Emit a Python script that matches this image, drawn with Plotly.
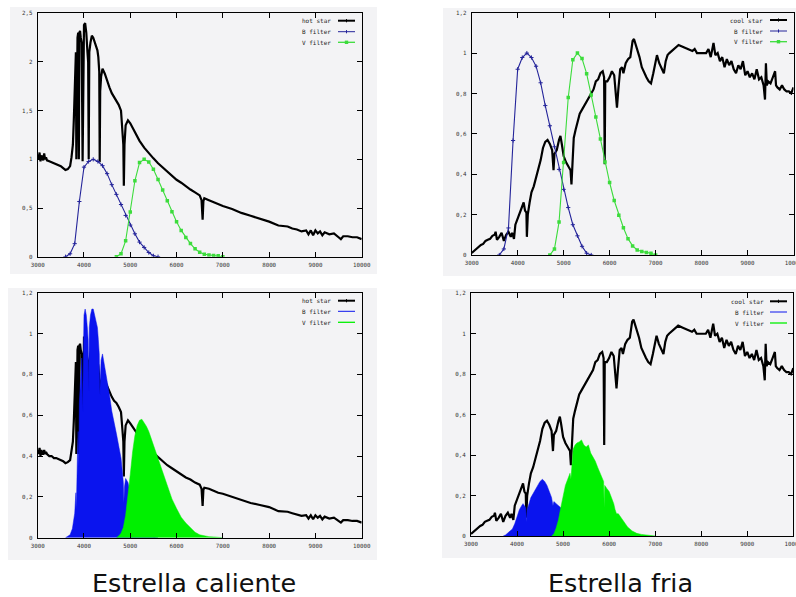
import plotly.graph_objects as go

W, H = 796, 597

# ---------------- DATA ----------------
# Hot star spectrum (top-left panel)
hot_wl = [3000, 3020, 3040, 3060, 3080, 3100, 3120, 3140, 3160, 3180, 3200, 3250, 3300, 3350, 3400,
          3450, 3500, 3550, 3600, 3650, 3700, 3730, 3760, 3780, 3800, 3815, 3825, 3835, 3845, 3860,
          3875, 3889, 3900, 3915, 3930, 3950, 3970, 3985, 4000, 4025, 4050, 4075, 4090, 4102, 4115,
          4140, 4170, 4200, 4230, 4260, 4290, 4310, 4330, 4340, 4350, 4370, 4400, 4450, 4500, 4550,
          4600, 4650, 4700, 4750, 4800, 4830, 4850, 4861, 4875, 4900, 4950, 5000, 5100, 5200, 5300,
          5400, 5500, 5600, 5700, 5800, 5900, 6000, 6100, 6200, 6300, 6400, 6500, 6540, 6563, 6580,
          6600, 6700, 6800, 6900, 7000, 7200, 7400, 7600, 7800, 8000, 8200, 8400, 8500, 8600, 8700,
          8800, 8850, 8900, 8950, 9000, 9050, 9100, 9150, 9200, 9300, 9400, 9500, 9550, 9600, 9700,
          9800, 9900, 10000]
hot_flux = [1.05, 1.00, 1.07, 0.98, 1.04, 1.01, 0.99, 1.06, 1.00, 1.02, 0.99, 0.98, 0.97, 0.96, 0.95,
            0.94, 0.93, 0.91, 0.89, 0.90, 0.93, 1.02, 1.15, 1.40, 1.75, 2.00, 2.10, 1.00, 2.20, 2.25,
            2.30, 1.00, 2.30, 2.32, 2.25, 2.20, 0.98, 2.30, 2.38, 2.40, 2.30, 2.10, 2.00, 1.00, 2.10,
            2.20, 2.27, 2.25, 2.20, 2.16, 2.12, 2.05, 1.90, 0.97, 1.70, 1.85, 1.93, 1.88, 1.80, 1.74,
            1.68, 1.64, 1.60, 1.56, 1.50, 1.30, 1.15, 0.73, 1.15, 1.35, 1.40, 1.37, 1.28, 1.19, 1.12,
            1.06, 1.01, 0.96, 0.92, 0.87, 0.83, 0.79, 0.76, 0.72, 0.69, 0.66, 0.63, 0.58, 0.38, 0.57,
            0.60, 0.58, 0.56, 0.54, 0.52, 0.49, 0.45, 0.42, 0.39, 0.36, 0.32, 0.31, 0.29, 0.28, 0.26,
            0.27, 0.23, 0.27, 0.22, 0.27, 0.24, 0.26, 0.22, 0.25, 0.23, 0.24, 0.20, 0.18, 0.21, 0.21,
            0.20, 0.20, 0.18]
# Hot star spectrum as drawn in the bottom-left panel (different normalisation)
hot_flux_low = [0.43, 0.41, 0.44, 0.40, 0.43, 0.41, 0.41, 0.43, 0.41, 0.42, 0.41, 0.40, 0.40, 0.39, 0.39,
                0.385, 0.38, 0.375, 0.365, 0.37, 0.38, 0.42, 0.47, 0.57, 0.72, 0.82, 0.86, 0.41, 0.90, 0.92,
                0.94, 0.41, 0.94, 0.95, 0.92, 0.90, 0.40, 0.94, 0.98, 0.98, 0.94, 0.86, 0.82, 0.41, 0.86,
                0.90, 0.93, 0.92, 0.90, 0.89, 0.87, 0.84, 0.78, 0.40, 0.70, 0.76, 0.79, 0.77, 0.74, 0.71,
                0.69, 0.67, 0.66, 0.64, 0.615, 0.53, 0.47, 0.30, 0.47, 0.55, 0.575, 0.56, 0.525, 0.49, 0.46,
                0.435, 0.415, 0.395, 0.375, 0.355, 0.34, 0.325, 0.31, 0.295, 0.285, 0.27, 0.26, 0.24, 0.155, 0.235,
                0.245, 0.24, 0.23, 0.22, 0.215, 0.20, 0.185, 0.17, 0.16, 0.15, 0.13, 0.127, 0.12, 0.115, 0.107,
                0.11, 0.094, 0.11, 0.09, 0.11, 0.098, 0.107, 0.09, 0.103, 0.094, 0.098, 0.082, 0.074, 0.086, 0.086,
                0.082, 0.082, 0.074]

# Cool star spectrum (right panels)
cool_wl = [3000, 3050, 3100, 3150, 3200, 3250, 3300, 3350, 3400, 3450, 3500, 3520, 3550, 3600, 3650,
           3700, 3750, 3800, 3850, 3880, 3920, 3950, 4000, 4050, 4100, 4130, 4160, 4190, 4200, 4220,
           4260, 4300, 4350, 4400, 4450, 4500, 4550, 4600, 4650, 4700, 4750, 4780, 4800, 4850, 4900,
           4930, 4960, 5000, 5050, 5100, 5150, 5170, 5190, 5220, 5260, 5300, 5350, 5400, 5450, 5500,
           5550, 5600, 5650, 5700, 5750, 5800, 5850, 5880, 5893, 5905, 5950, 6000, 6050, 6100, 6130,
           6160, 6190, 6230, 6270, 6300, 6350, 6400, 6450, 6500, 6530, 6570, 6600, 6650, 6700, 6750,
           6800, 6850, 6900, 6950, 7000, 7030, 7080, 7130, 7180, 7220, 7260, 7300, 7400, 7500, 7600,
           7700, 7800, 7850, 7900, 8000, 8100, 8150, 8200, 8260, 8300, 8350, 8400, 8450, 8500, 8550,
           8600, 8650, 8700, 8750, 8800, 8850, 8900, 8950, 9000, 9050, 9100, 9150, 9200, 9250, 9300,
           9350, 9380, 9400, 9420, 9450, 9500, 9550, 9600, 9620, 9650, 9700, 9750, 9800, 9850, 9900,
           9950, 10000]
cool_flux = [0.01, 0.02, 0.03, 0.04, 0.05, 0.055, 0.07, 0.075, 0.08, 0.095, 0.10, 0.115, 0.075, 0.09, 0.11,
             0.07, 0.10, 0.115, 0.09, 0.11, 0.08, 0.15, 0.18, 0.22, 0.24, 0.26, 0.22, 0.21, 0.09, 0.20,
             0.26, 0.31, 0.34, 0.38, 0.42, 0.47, 0.53, 0.56, 0.57, 0.55, 0.52, 0.42, 0.50, 0.52, 0.57,
             0.59, 0.55, 0.49, 0.46, 0.44, 0.42, 0.35, 0.43, 0.58, 0.62, 0.66, 0.70, 0.72, 0.74, 0.76,
             0.78, 0.80, 0.82, 0.86, 0.87, 0.90, 0.91, 0.88, 0.45, 0.86, 0.86, 0.88, 0.91, 0.89, 0.80,
             0.73, 0.82, 0.92, 0.93, 0.90, 0.95, 0.97, 0.98, 1.06, 1.07, 1.04, 1.03, 0.98, 0.93, 0.90,
             0.88, 0.86, 0.85, 0.90, 0.95, 0.99, 0.95, 0.92, 0.90, 0.96, 0.99, 1.00, 1.02, 1.04, 1.03,
             1.02, 1.01, 1.02, 1.00, 1.00, 1.00, 1.02, 0.98, 1.05, 0.99, 1.00, 0.96, 0.98, 0.93, 0.97,
             0.94, 0.96, 0.92, 0.90, 0.94, 0.92, 0.96, 0.89, 0.91, 0.88, 0.90, 0.87, 0.92, 0.87, 0.88,
             0.84, 0.77, 0.95, 0.84, 0.86, 0.85, 0.88, 0.91, 0.84, 0.83, 0.82, 0.84, 0.82, 0.81, 0.81,
             0.80, 0.83]

# Filter transmission curves
b_wl = [3600, 3700, 3800, 3900, 4000, 4100, 4200, 4300, 4400, 4500, 4600, 4700, 4800, 4900, 5000,
        5100, 5200, 5300, 5400, 5500, 5600]
b_trans = [0.0, 0.03, 0.134, 0.567, 0.920, 0.978, 1.000, 0.978, 0.935, 0.853, 0.740, 0.640, 0.536, 0.424,
           0.325, 0.235, 0.150, 0.095, 0.043, 0.009, 0.0]
v_wl = [4700, 4800, 4900, 5000, 5100, 5200, 5300, 5400, 5500, 5600, 5700, 5800, 5900, 6000, 6100,
        6200, 6300, 6400, 6500, 6600, 6700, 6800, 6900, 7000]
v_trans = [0.0, 0.030, 0.163, 0.458, 0.780, 0.967, 1.000, 0.973, 0.898, 0.792, 0.684, 0.574, 0.461, 0.359,
           0.270, 0.197, 0.135, 0.081, 0.045, 0.025, 0.017, 0.013, 0.009, 0.0]

# Star light through each filter (bottom panels)
hotB_wl = [3600, 3650, 3700, 3750, 3780, 3800, 3815, 3825, 3835, 3845, 3860, 3875, 3889, 3900, 3915,
           3930, 3950, 3970, 3985, 4000, 4025, 4050, 4075, 4090, 4102, 4115, 4140, 4170, 4200, 4230,
           4260, 4290, 4310, 4330, 4340, 4350, 4370, 4400, 4450, 4500, 4550, 4600, 4650, 4700, 4750,
           4800, 4830, 4850, 4861, 4875, 4900, 4950, 5000, 5100, 5200, 5300, 5400, 5500, 5600]
hotB_flux = [0.0, 0.006, 0.014, 0.045, 0.085, 0.12, 0.18, 0.22, 0.14, 0.33, 0.42, 0.52, 0.35, 0.66, 0.74,
             0.80, 0.88, 0.62, 1.03, 1.09, 1.12, 1.09, 1.02, 0.97, 0.72, 1.03, 1.09, 1.12, 1.12, 1.09,
             1.06, 1.03, 0.97, 0.90, 0.70, 0.80, 0.87, 0.90, 0.84, 0.77, 0.70, 0.62, 0.57, 0.51, 0.45,
             0.39, 0.32, 0.27, 0.17, 0.25, 0.29, 0.27, 0.22, 0.15, 0.09, 0.05, 0.023, 0.005, 0.0]
hotV_wl = [4700, 4750, 4800, 4850, 4900, 4950, 5000, 5050, 5100, 5150, 5200, 5250, 5300, 5350, 5400,
           5500, 5600, 5700, 5800, 5900, 6000, 6100, 6200, 6300, 6400, 6500, 6600, 6700, 6800, 6900, 7000]
hotV_flux = [0.0, 0.008, 0.022, 0.05, 0.11, 0.20, 0.31, 0.42, 0.50, 0.55, 0.575, 0.58, 0.565, 0.545, 0.52,
             0.455, 0.385, 0.315, 0.25, 0.19, 0.143, 0.10, 0.072, 0.047, 0.027, 0.014, 0.008, 0.005, 0.004,
             0.002, 0.0]
coolB_wl = [3700, 3750, 3800, 3850, 3900, 3950, 4000, 4050, 4100, 4130, 4160, 4190, 4200, 4220, 4260,
            4300, 4350, 4400, 4450, 4500, 4550, 4600, 4650, 4700, 4750, 4780, 4800, 4850, 4900, 4950,
            5000, 5100, 5200, 5300, 5400, 5500, 5600]
coolB_flux = [0.0, 0.005, 0.015, 0.025, 0.035, 0.06, 0.10, 0.13, 0.15, 0.16, 0.15, 0.14, 0.07, 0.13, 0.16,
              0.19, 0.21, 0.23, 0.25, 0.27, 0.28, 0.27, 0.25, 0.22, 0.19, 0.15, 0.17, 0.16, 0.15, 0.14,
              0.10, 0.07, 0.04, 0.04, 0.02, 0.005, 0.0]
coolV_wl = [4750, 4800, 4850, 4900, 4950, 5000, 5050, 5100, 5150, 5170, 5190, 5220, 5260, 5300, 5350,
            5400, 5450, 5500, 5550, 5600, 5650, 5700, 5750, 5800, 5850, 5880, 5893, 5905, 5950, 6000,
            6050, 6100, 6130, 6160, 6200, 6300, 6400, 6500, 6600, 6700, 6800, 6900, 7000]
coolV_flux = [0.0, 0.01, 0.04, 0.08, 0.14, 0.20, 0.25, 0.28, 0.31, 0.28, 0.33, 0.43, 0.45, 0.46, 0.465,
              0.475, 0.45, 0.44, 0.45, 0.41, 0.39, 0.37, 0.34, 0.31, 0.29, 0.27, 0.14, 0.25, 0.235, 0.22,
              0.19, 0.16, 0.13, 0.11, 0.11, 0.075, 0.045, 0.025, 0.013, 0.008, 0.005, 0.002, 0.0]

x_ticks = [3000, 4000, 5000, 6000, 7000, 8000, 9000, 10000]
x_ticktext = ["3000", "4000", "5000", "6000", "7000", "8000", "9000", "10000"]
y_ticks_hot = [0, 0.5, 1, 1.5, 2, 2.5]
y_ticktext_hot = ["0", "0,5", "1", "1,5", "2", "2,5"]
y_ticks_12 = [0, 0.2, 0.4, 0.6, 0.8, 1, 1.2]
y_ticktext_12 = ["0", "0,2", "0,4", "0,6", "0,8", "1", "1,2"]

legend_top_left = ["hot star", "B filter", "V filter"]
legend_top_right = ["cool star", "B filter", "V filter"]
captions = ["Estrella caliente", "Estrella fria"]

# ---------------- STYLE ----------------
STAR = "#000000"
BLUE_LINE = "#24249a"
GREEN_LINE = "#3cdc3c"
BLUE_FILL = "#0a14ee"
GREEN_FILL = "#00f000"
TICKFONT = dict(family="DejaVu Sans Mono", size=5.8, color="#333333")
LEGFONT = dict(family="DejaVu Sans Mono", size=6, color="#222222")


def px(xp):
    return xp / W


def py(yp):
    return 1 - yp / H


# panel geometry in pixels: (x0, x1, ytop, ybottom)
panels = {
    "1": (37.7, 361.7, 13.3, 256.7),
    "2": (471.7, 793.5, 12.7, 255.0),
    "3": (37.7, 361.7, 292.7, 537.7),
    "4": (471.0, 793.3, 293.3, 536.0),
}
yranges = {"1": [0, 2.5], "2": [0, 1.2], "3": [0, 1.2], "4": [0, 1.2]}

fig = go.Figure()


def ax(n):
    return ("x" if n == "1" else "x" + n), ("y" if n == "1" else "y" + n)


def filter_line(xs, ys, color, sym, size, xa, ya):
    if sym == "square":
        mk = dict(symbol="square", size=size, color=color)
    else:
        mk = dict(symbol="cross-thin", size=size, line=dict(color=color, width=1))
    return go.Scatter(x=xs, y=ys, mode="lines+markers", line=dict(color=color, width=1.1),
                      marker=mk, xaxis=xa, yaxis=ya)


# Top-left
xa, ya = ax("1")
fig.add_trace(go.Scatter(x=hot_wl, y=hot_flux, mode="lines", line=dict(color=STAR, width=2.2), xaxis=xa, yaxis=ya))
fig.add_trace(filter_line(b_wl, b_trans, BLUE_LINE, "cross", 3, xa, ya))
fig.add_trace(filter_line(v_wl, v_trans, GREEN_LINE, "square", 3.5, xa, ya))
# Top-right
xa, ya = ax("2")
fig.add_trace(go.Scatter(x=cool_wl, y=cool_flux, mode="lines", line=dict(color=STAR, width=2.2), xaxis=xa, yaxis=ya))
fig.add_trace(filter_line(b_wl, b_trans, BLUE_LINE, "cross", 3, xa, ya))
fig.add_trace(filter_line(v_wl, v_trans, GREEN_LINE, "square", 3.5, xa, ya))
# Bottom-left
xa, ya = ax("3")
fig.add_trace(go.Scatter(x=hot_wl, y=hot_flux_low, mode="lines", line=dict(color=STAR, width=2.2), xaxis=xa, yaxis=ya))
fig.add_trace(go.Scatter(x=hotB_wl, y=hotB_flux, mode="lines", fill="tozeroy", fillcolor=BLUE_FILL,
                         line=dict(color=BLUE_FILL, width=0.5), xaxis=xa, yaxis=ya))
fig.add_trace(go.Scatter(x=hotV_wl, y=hotV_flux, mode="lines", fill="tozeroy", fillcolor=GREEN_FILL,
                         line=dict(color=GREEN_FILL, width=0.5), xaxis=xa, yaxis=ya))
# Bottom-right
xa, ya = ax("4")
fig.add_trace(go.Scatter(x=cool_wl, y=cool_flux, mode="lines", line=dict(color=STAR, width=2.2), xaxis=xa, yaxis=ya))
fig.add_trace(go.Scatter(x=coolB_wl, y=coolB_flux, mode="lines", fill="tozeroy", fillcolor=BLUE_FILL,
                         line=dict(color=BLUE_FILL, width=0.5), xaxis=xa, yaxis=ya))
fig.add_trace(go.Scatter(x=coolV_wl, y=coolV_flux, mode="lines", fill="tozeroy", fillcolor=GREEN_FILL,
                         line=dict(color=GREEN_FILL, width=0.5), xaxis=xa, yaxis=ya))

layout = dict(
    width=W, height=H, margin=dict(l=0, r=0, t=0, b=0), showlegend=False,
    paper_bgcolor="white", plot_bgcolor="#fafafc",
)
for n, (x0, x1, yt, yb) in panels.items():
    xk = "xaxis" if n == "1" else "xaxis" + n
    yk = "yaxis" if n == "1" else "yaxis" + n
    xa, ya = ax(n)
    layout[xk] = dict(domain=[px(x0), px(x1)], range=[3000, 10000], anchor=ya,
                      tickvals=x_ticks, ticktext=x_ticktext, ticks="inside", ticklen=5,
                      tickcolor="#000", showline=True, linecolor="#000", linewidth=1, mirror="ticks",
                      showgrid=False, zeroline=False, tickfont=TICKFONT, automargin=False,
                      ticklabelstandoff=2, ticklabeloverflow="allow")
    if n == "1":
        yv, yt_ = y_ticks_hot, y_ticktext_hot
    else:
        yv, yt_ = y_ticks_12, y_ticktext_12
    layout[yk] = dict(domain=[py(yb), py(yt)], range=yranges[n], anchor=xa,
                      tickvals=yv, ticktext=yt_, ticks="inside", ticklen=5,
                      tickcolor="#000", showline=True, linecolor="#000", linewidth=1, mirror="ticks",
                      showgrid=False, zeroline=False, tickfont=TICKFONT, automargin=False,
                      ticklabelstandoff=3, ticklabeloverflow="allow")
fig.update_layout(**layout)

shapes = []
# panel backgrounds
for (x0, y0, x1, y1) in [(10, 7, 377, 274), (443, 8, 796, 276), (8, 288, 377, 560), (442, 289, 796, 558)]:
    shapes.append(dict(type="rect", xref="paper", yref="paper", x0=px(x0), x1=px(x1), y0=py(y1), y1=py(y0),
                       fillcolor="#f3f3f5", line=dict(width=0), layer="below"))

annotations = []
# legends: (text right edge, sample x0, sample x1, rows, labels, with markers)
legends = [
    (333, 338, 355, [20.7, 31.7, 42.3], legend_top_left, True),
    (765, 770, 787, [20.0, 31.0, 41.7], legend_top_right, True),
    (333, 338, 355, [300.7, 311.3, 322.3], legend_top_left, False),
    (765.7, 770, 787, [301.3, 312.0, 323.0], legend_top_right, False),
]
for tx, s0, s1, rows, labels, marks in legends:
    colors = [STAR, BLUE_LINE if marks else BLUE_FILL, GREEN_LINE if marks else GREEN_FILL]
    widths = [2, 1, 1.3]
    for i, (lab, r) in enumerate(zip(labels, rows)):
        annotations.append(dict(text=lab, xref="paper", yref="paper", x=px(tx), y=py(r), xanchor="right",
                                yanchor="middle", showarrow=False, font=LEGFONT))
        shapes.append(dict(type="line", xref="paper", yref="paper", x0=px(s0), x1=px(s1), y0=py(r), y1=py(r),
                           line=dict(color=colors[i], width=widths[i])))
        cx = (s0 + s1) / 2
        if i == 0 or (marks and i == 1):
            shapes.append(dict(type="line", xref="paper", yref="paper", x0=px(cx), x1=px(cx), y0=py(r - 1.6), y1=py(r + 1.6),
                               line=dict(color=colors[i], width=1)))
        if marks and i == 2:
            shapes.append(dict(type="rect", xref="paper", yref="paper", x0=px(cx - 1.7), x1=px(cx + 1.7),
                               y0=py(r + 1.7), y1=py(r - 1.7), fillcolor=GREEN_LINE, line=dict(width=0)))

capfont = dict(family="DejaVu Sans", size=25.5, color="#111")
annotations.append(dict(text=captions[0], xref="paper", yref="paper", x=px(193.5), y=py(583), xanchor="center",
                        yanchor="middle", showarrow=False, font=capfont))
annotations.append(dict(text=captions[1], xref="paper", yref="paper", x=px(620), y=py(583), xanchor="center",
                        yanchor="middle", showarrow=False, font=capfont))

fig.update_layout(shapes=shapes, annotations=annotations)
fig.write_html("out.html")
